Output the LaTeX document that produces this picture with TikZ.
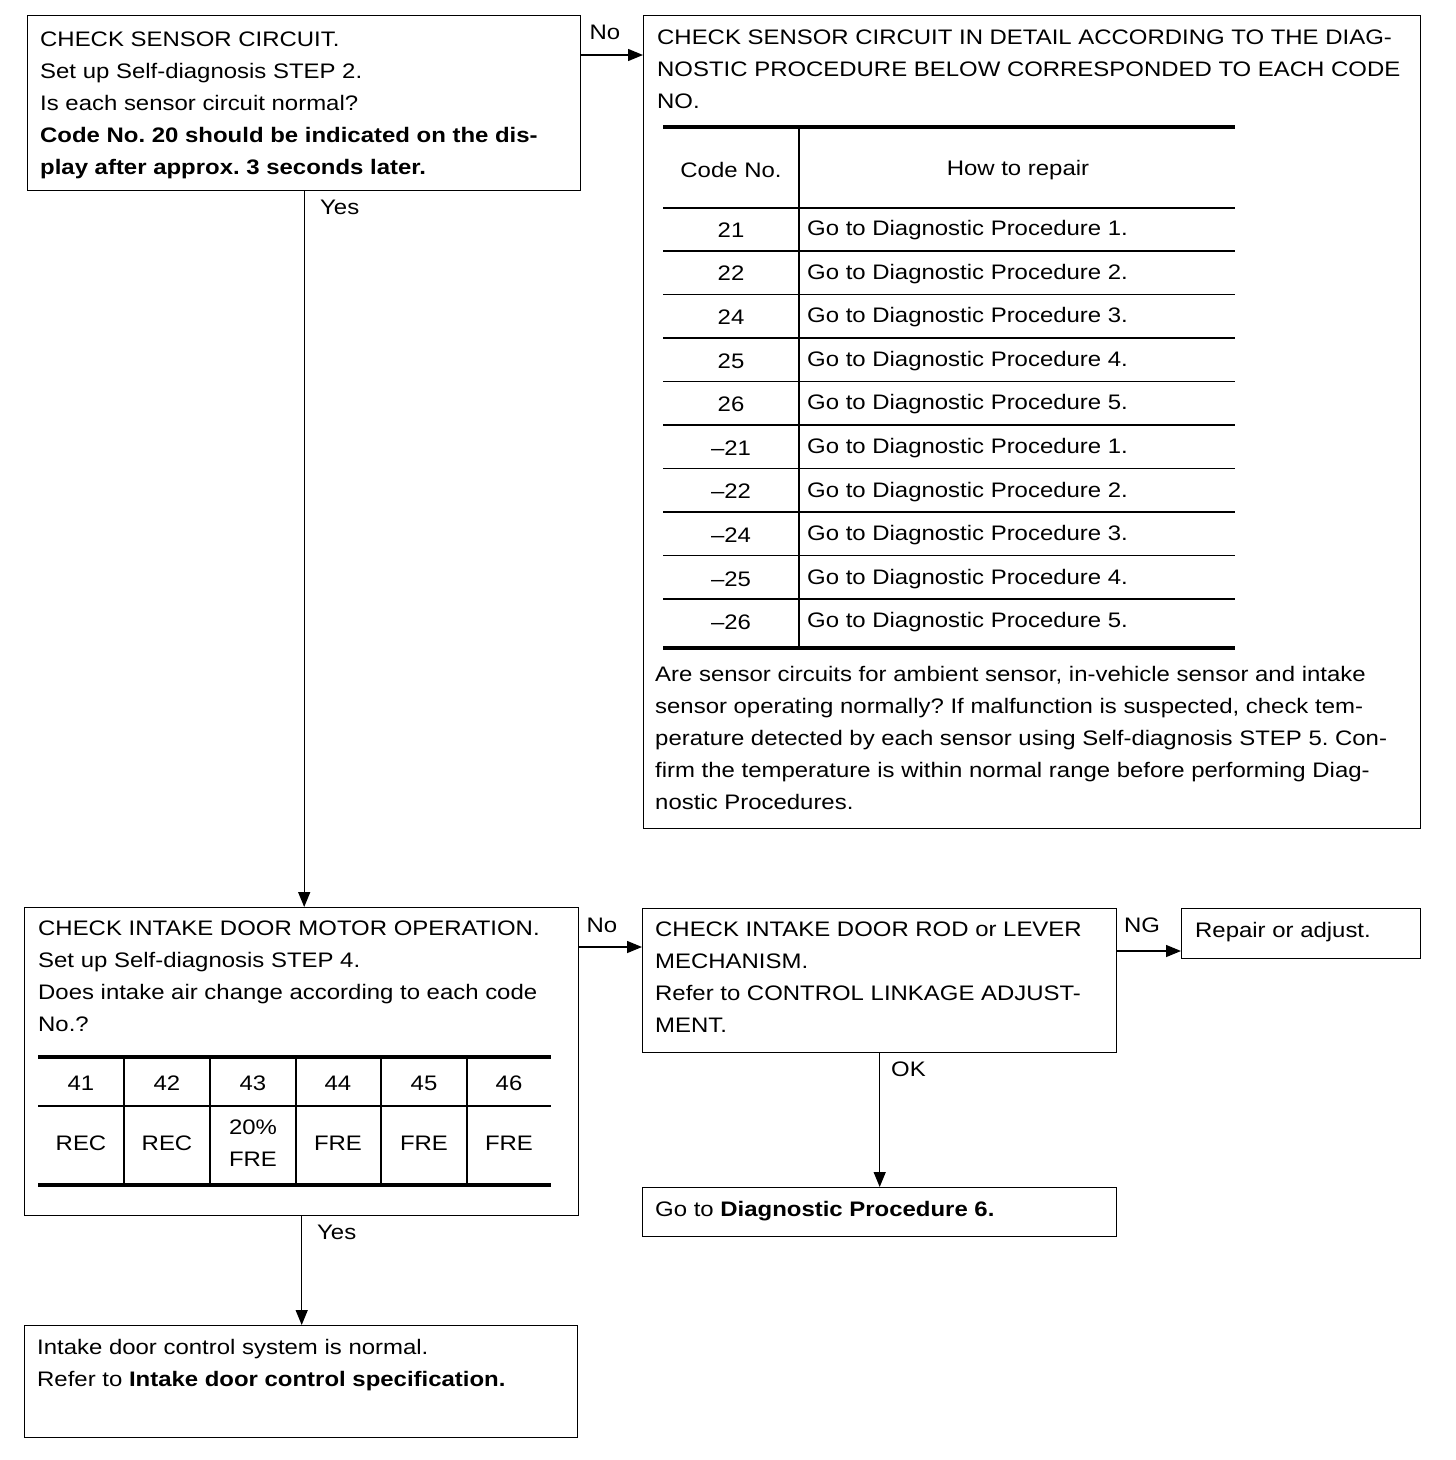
\documentclass[tikz,border=0pt]{standalone}
\usepackage{fontspec}
\setmainfont{Liberation Sans}[FakeStretch=1.14]
\usetikzlibrary{arrows.meta,positioning,calc}
\newcommand\mainsize{\fontsize{21}{32}\selectfont}
\tikzset{
  box/.style={draw, line width=1.4pt, anchor=north west, inner sep=0pt},
  txt/.style={anchor=base west, align=left, inner sep=0pt, font=\mainsize},
  lbl/.style={inner sep=0pt, font=\mainsize},
  cell/.style={inner sep=0pt, font=\mainsize, align=center},
  flow/.style={-{Triangle[length=15pt,width=12pt]}, line width=1.4pt},
  thickrule/.style={line width=3.6pt},
  thinrule/.style={line width=1.8pt}
}

\begin{document}
\frenchspacing
\begin{tikzpicture}[x=1pt,y=-1pt]
  \useasboundingbox (0,0) rectangle (1456,1460);
  % boxes
  \node[box, minimum width=553pt, minimum height=175pt] (sensor) at (27,15) {};
  \node[box, minimum width=777pt, minimum height=813pt] (detail) at (643,15) {};
  \node[box, minimum width=554pt, minimum height=308pt] (intake) at (24,907) {};
  \node[box, minimum width=474pt, minimum height=144pt] (rod) at (642,908) {};
  \node[box, minimum width=239pt, minimum height=50pt] (repair) at (1181,908) {};
  \node[box, minimum width=474pt, minimum height=49pt] (goto6) at (642,1187) {};
  \node[box, minimum width=553pt, minimum height=112pt] (normal) at (24,1325) {};

  % box texts (placed at the baseline of their last line)
  \node[txt] (sensortxt) at (40,174) {CHECK SENSOR CIRCUIT.\\
    Set up Self-diagnosis STEP 2.\\
    Is each sensor circuit normal?\\
    \textbf{Code No. 20 should be indicated on the dis-}\\
    \textbf{play after approx. 3 seconds later.}};
  \node[txt] (detailtxt) at (657,108) {CHECK SENSOR CIRCUIT IN DETAIL ACCORDING TO THE DIAG-\\
    NOSTIC PROCEDURE BELOW CORRESPONDED TO EACH CODE\\
    NO.};
  \node[txt] (detailnote) at (655,809) {Are sensor circuits for ambient sensor, in-vehicle sensor and intake\\
    sensor operating normally? If malfunction is suspected, check tem-\\
    perature detected by each sensor using Self-diagnosis STEP 5. Con-\\
    firm the temperature is within normal range before performing Diag-\\
    nostic Procedures.};
  \node[txt] (intaketxt) at (38,1031) {CHECK INTAKE DOOR MOTOR OPERATION.\\
    Set up Self-diagnosis STEP 4.\\
    Does intake air change according to each code\\
    No.?};
  \node[txt] (rodtxt) at (655,1032) {CHECK INTAKE DOOR ROD or LEVER\\
    MECHANISM.\\
    Refer to CONTROL LINKAGE ADJUST-\\
    MENT.};
  \node[txt] (repairtxt) at (1195,937) {Repair or adjust.};
  \node[txt] (goto6txt) at (655,1216) {Go to \textbf{Diagnostic Procedure 6.}};
  \node[txt] (normaltxt) at (37,1386) {Intake door control system is normal.\\
    Refer to \textbf{Intake door control specification.}};

  % code table
  \draw[thickrule] (663,127) -- (1235,127);
  \draw[thinrule] (663,208) -- (1235,208);
  \foreach \i in {0,...,8}
    \draw[thinrule] (663,251+43.5*\i) -- (1235,251+43.5*\i);
  \draw[thickrule] (663,648) -- (1235,648);
  \draw[thinrule] (799,127) -- (799,648);
  \node[cell] (codehead) at (731,170) {Code No.};
  \node[cell] (repairhead) at (1018,170) {How to repair};
  \foreach \c/\p [count=\i from 0] in {21/1,22/2,24/3,25/4,26/5,--21/1,--22/2,--24/3,--25/4,--26/5} {
    \node[cell] (code\i) at (731,230+43.6*\i) {\c};
    \node[cell, anchor=west] (proc\i) at (807,230+43.6*\i) {Go to Diagnostic Procedure \p.};
  }

  % intake table
  \draw[thickrule] (38,1057) -- (551,1057);
  \draw[thinrule] (38,1106) -- (551,1106);
  \draw[thickrule] (38,1185) -- (551,1185);
  \foreach \x in {124,210,296,381,467}
    \draw[thinrule] (\x,1057) -- (\x,1185);
  \foreach \c/\v/\x [count=\i] in {41/REC/81,42/REC/167,43/{20\%\\FRE}/253,44/FRE/338,45/FRE/424,46/FRE/509} {
    \node[cell] (mode\i) at (\x,1083) {\c};
    \node[cell] (air\i) at (\x,1143) {\v};
  }

  % connectors
  \draw[flow] ([yshift=-40pt]sensor.north east) -- ([yshift=-40pt]sensor.north east -| detail.west);
  \node[lbl] (no1) at (605,32) {No};
  \draw[flow] (sensor.south) -- (sensor.south |- intake.north);
  \node[lbl, anchor=west] (yes1) at (320,207) {Yes};
  \draw[flow] ([yshift=-40pt]intake.north east) -- ([yshift=-40pt]intake.north east -| rod.west);
  \node[lbl] (no2) at (602,925) {No};
  \draw[flow] ([yshift=-43pt]rod.north east) -- ([yshift=-43pt]rod.north east -| repair.west);
  \node[lbl] (ng) at (1142,925) {NG};
  \draw[flow] (rod.south) -- (rod.south |- goto6.north);
  \node[lbl, anchor=west] (ok) at (891,1069) {OK};
  \draw[flow] (intake.south) -- (intake.south |- normal.north);
  \node[lbl, anchor=west] (yes2) at (317,1232) {Yes};
\end{tikzpicture}
\end{document}
